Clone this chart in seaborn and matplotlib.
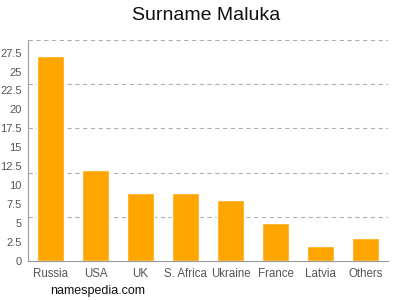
import matplotlib
matplotlib.use("Agg")
import matplotlib.pyplot as plt
import seaborn as sns
import numpy as np
import pandas as pd

countries = ["Russia", "USA", "UK", "S. Africa", "Ukraine", "France", "Latvia", "Others"]
counts = [27, 12, 9, 9, 8, 5, 2, 3]
yticks = [0, 2.5, 5, 7.5, 10, 12.5, 15, 17.5, 20, 22.5, 25, 27.5]
ytick_labels = ["0", "2.5", "5", "7.5", "10", "12.5", "15", "17.5", "20", "22.5", "25", "27.5"]

sns.set_style("white")
plt.rcParams['font.family'] = ['Liberation Sans', 'DejaVu Sans']

df = pd.DataFrame({"country": countries, "count": counts})

fig = plt.figure(figsize=(4, 3), dpi=100)
ax = fig.add_axes([0.07, 0.13, 0.90, 0.7367])

ymax = max(counts) * 1.08
for k in range(1, 6):
    ax.axhline(ymax * k / 5, color="#b0b0b0", linestyle=(0, (4, 3)), linewidth=0.8, zorder=0)

sns.barplot(data=df, x="country", y="count", color="#FFA500", width=0.62,
            saturation=1, ax=ax, zorder=2)

ax.set_xlim(-0.5, len(countries) - 0.5)
ax.set_ylim(0, ymax)
ax.set_yticks(yticks)
ax.set_yticklabels(ytick_labels)
ax.set_xlabel("")
ax.set_ylabel("")

for s in ["top", "right"]:
    ax.spines[s].set_visible(False)
for s in ["left", "bottom"]:
    ax.spines[s].set_color("#999999")
    ax.spines[s].set_linewidth(0.8)

ax.tick_params(axis="both", colors="#999999", length=3, width=0.6, labelsize=8, labelcolor="#555555", pad=1.5)
ax.tick_params(axis="x", labelsize=8.3, pad=2)

fig.text(0.515, 0.95, "Surname Maluka", ha="center", va="center", fontsize=14, color="#111111")
fig.text(0.125, 0.03, "namespedia.com", ha="left", va="center", fontsize=9, color="#111111")

fig.savefig("out.png", dpi=100)
